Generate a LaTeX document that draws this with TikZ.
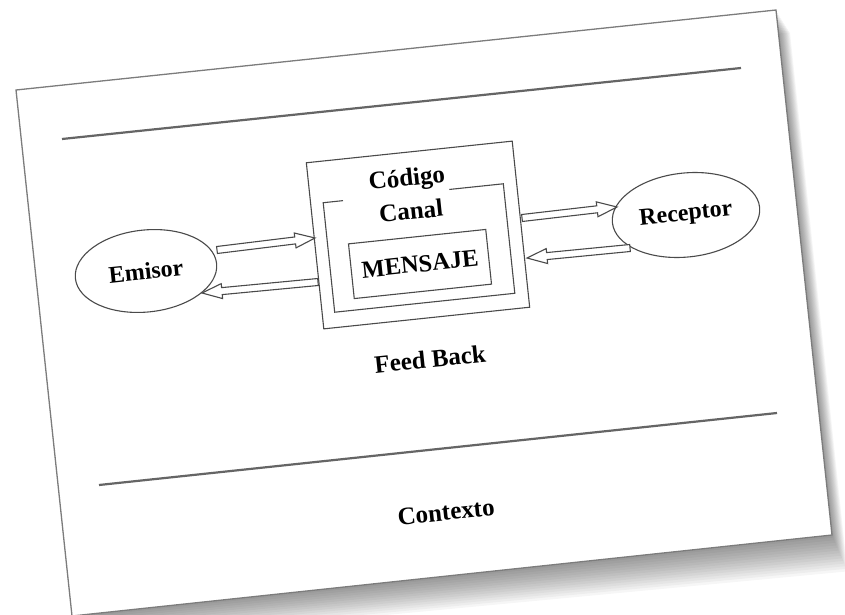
\documentclass[tikz,border=0pt]{standalone}
\usepackage{fontspec}
\setmainfont{Liberation Serif}
\usetikzlibrary{calc,shapes.geometric}
\definecolor{ink}{HTML}{4A4A4A}
\definecolor{edge}{HTML}{7C7C7C}
\begin{document}
\begin{tikzpicture}[x=1pt,y=-1pt,
  lbl/.style={font=\fontsize{25}{30}\selectfont\bfseries, rotate=6, inner sep=0pt},
  ell/.style={ellipse, draw=ink, line width=1.1pt, fill=white, rotate=6, inner sep=0pt,
              font=\fontsize{24}{28}\selectfont\bfseries},
  boxr/.style={rectangle, draw=ink, line width=1.1pt, rotate=6, inner sep=0pt},
  rulel/.style={draw=ink!85, line width=2.2pt},
  hollow/.style={draw=ink, fill=white, line width=1.1pt, line join=miter,
    to path={
      ($(\tikztostart)!3.5pt!90:(\tikztotarget)$)
      -- ($($(\tikztotarget)!20pt!(\tikztostart)$)!3.5pt!-90:(\tikztostart)$)
      -- ($($(\tikztotarget)!20pt!(\tikztostart)$)!7.5pt!-90:(\tikztostart)$)
      -- (\tikztotarget)
      -- ($($(\tikztotarget)!20pt!(\tikztostart)$)!7.5pt!90:(\tikztostart)$)
      -- ($($(\tikztotarget)!20pt!(\tikztostart)$)!3.5pt!90:(\tikztostart)$)
      -- ($(\tikztostart)!3.5pt!-90:(\tikztotarget)$)
      -- cycle}}
]
\useasboundingbox (0,0) rectangle (845,615);
\clip (0,0) rectangle (845,615);

% paper corners
\coordinate (ptl) at (16,90);
\coordinate (ptr) at (776,10);
\coordinate (pbr) at (832,535);
\coordinate (pbl) at (72,616);

% shadow
\foreach \k in {1,...,14}{
  \fill[black, opacity=0.035]
    ([shift={(\k*0.3,\k*1.2)}]ptl) -- ([shift={(\k*1.0,\k*1.6)}]ptr)
    -- ([shift={(\k*1.1,\k*2.6)}]pbr) -- ([shift={(\k*0.5,\k*2.0)}]pbl) -- cycle;
}
% paper
\filldraw[fill=white, draw=edge, line width=1.3pt] (ptl) -- (ptr) -- (pbr) -- (pbl) -- cycle;

% horizontal rules
\coordinate (r1a) at (62,139);
\coordinate (r1b) at (741,68);
\coordinate (r2a) at (99,485);
\coordinate (r2b) at (777,413);
\draw[rulel] (r1a) -- (r1b);
\draw[rulel] (r2a) -- (r2b);

% boxes
\node[boxr, fill=white, minimum width=207pt, minimum height=167pt] (outer) at (418,235) {};
\node[boxr, draw=none, minimum width=180pt, minimum height=109pt] (chan) at (419,248) {};
\draw[ink, line width=1.1pt]
  ($(chan.north west)!0.11!(chan.north east)$) -- (chan.north west) -- (chan.south west)
  -- (chan.south east) -- (chan.north east) -- ($(chan.north west)!0.70!(chan.north east)$);
\node[boxr, minimum width=138pt, minimum height=55pt,
      font=\fontsize{24.5}{28}\selectfont\bfseries] (msg) at (420,264) {MENSAJE};

\node[lbl] (cod) at (407,180) {Código};
\node[lbl] (can) at (411,211) {Canal};

% ellipses
\node[ell, minimum width=142pt, minimum height=82pt] (emi) at (146,271) {Emisor};
\node[ell, minimum width=148pt, minimum height=84pt] (rec) at (686,215) {Receptor};

% arrow end points
\coordinate (ea) at (217,250);
\coordinate (oa) at (315,238);
\coordinate (ob) at (318,282);
\coordinate (eb) at (202,293);
\coordinate (oc) at (522,218);
\coordinate (ra) at (617,207);
\coordinate (rb) at (630,248);
\coordinate (od) at (527,258);

\draw[hollow] (ea) to (oa);
\draw[hollow] (ob) to (eb);
\draw[hollow] (oc) to (ra);
\draw[hollow] (rb) to (od);

\node[lbl] (fb) at (430,359) {Feed Back};
\node[lbl] (ctx) at (446,512) {Contexto};
\end{tikzpicture}
\end{document}
